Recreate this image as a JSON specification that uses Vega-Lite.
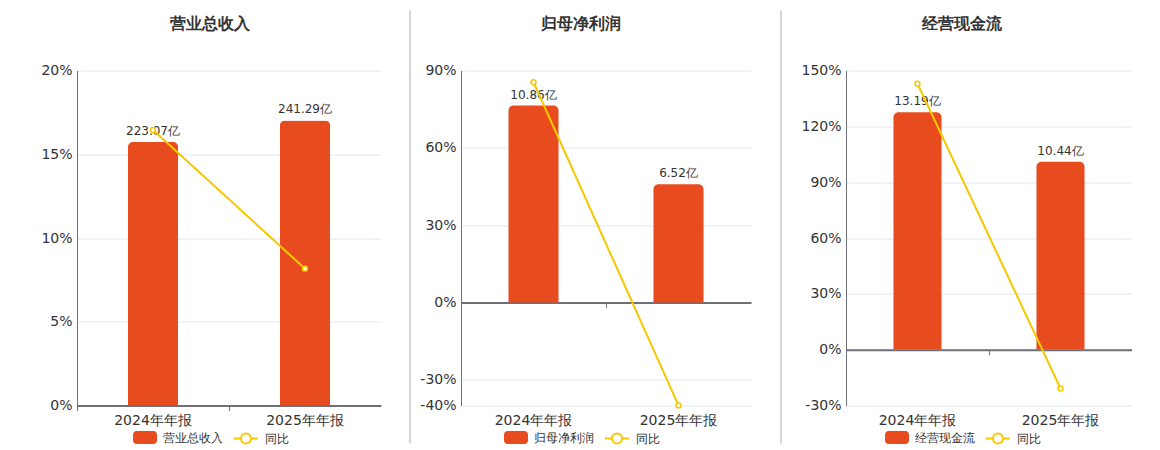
{
  "$schema": "https://vega.github.io/schema/vega-lite/v6.json",
  "padding": {"left": 0, "top": 9.5, "right": 0, "bottom": 0},
  "background": "white",
  "spacing": 0,
  "config": {
    "font": "DejaVu Sans",
    "view": {"stroke": null},
    "axis": {"labelColor": "#333333", "labelFontSize": 14, "labelFont": "DejaVu Sans", "domainColor": "#6E7079", "tickColor": "#6E7079", "gridColor": "#E0E6F1", "title": null},
    "title": {"fontSize": 16, "fontWeight": "bold", "color": "#333333", "anchor": "middle", "frame": "group", "offset": 32},
    "legend": {"labelFontSize": 12, "labelColor": "#333333", "labelOffset": 6, "title": null, "orient": "none", "legendY": 355}
  },
  "resolve": {"scale": {"color": "independent", "stroke": "independent"}},
  "hconcat": [
    {
      "title": {"text": "营业总收入", "dx": -19},
      "width": 304,
      "height": 335,
      "data": {"values": [
        {"period": "2024年年报", "value": 223.07, "label": "223.07亿", "yoy": 16.45},
        {"period": "2025年年报", "value": 241.29, "label": "241.29亿", "yoy": 8.17}
      ]},
      "encoding": {
        "x": {"field": "period", "type": "nominal", "sort": null,
          "scale": {"paddingInner": 0, "paddingOuter": 0},
          "axis": {"labelAngle": 0, "bandPosition": 0, "domainWidth": 2, "tickSize": 5, "labelPadding": 3}}
      },
      "layer": [
        {
          "mark": {"type": "bar", "width": {"band": 0.33}, "cornerRadiusTopLeft": 5, "cornerRadiusTopRight": 5},
          "encoding": {
            "y": {"field": "value", "type": "quantitative", "scale": {"domain": [0, 283.6], "nice": false, "zero": false}, "axis": null},
            "color": {"datum": "营业总收入", "scale": {"range": ["#E84C1E"]},
              "legend": {"legendX": 56, "symbolType": "M-0.7,-0.55H0.7A0.3,0.3 0 0 1 1,-0.25V0.25A0.3,0.3 0 0 1 0.7,0.55H-0.7A0.3,0.3 0 0 1 -1,0.25V-0.25A0.3,0.3 0 0 1 -0.7,-0.55Z", "symbolSize": 576, "symbolStrokeWidth": 0}}
          }
        },
        {
          "mark": {"type": "text", "baseline": "bottom", "dy": -4, "fontSize": 12, "color": "#333333"},
          "encoding": {
            "y": {"field": "value", "type": "quantitative", "scale": {"domain": [0, 283.6], "nice": false, "zero": false}, "axis": null},
            "text": {"field": "label"}
          }
        },
        {
          "mark": {"type": "line", "strokeWidth": 2, "point": {"filled": false, "fill": "white", "size": 24, "strokeWidth": 1.5}},
          "encoding": {
            "y": {"field": "yoy", "type": "quantitative", "scale": {"domain": [0, 20], "nice": false},
              "axis": {"values": [0, 5, 10, 15, 20], "labelExpr": "datum.value + '%'", "ticks": false, "labelPadding": 5, "grid": true, "domainWidth": 1, "minExtent": 77, "maxExtent": 77}},
            "stroke": {"datum": "同比", "scale": {"range": ["#F5C800"]},
              "legend": {"legendX": 156, "symbolType": "M-1,0H-0.42M0.42,0H1M-0.42,0A0.42,0.42 0 1 1 0.42,0A0.42,0.42 0 1 1 -0.42,0", "symbolSize": 576, "symbolStrokeWidth": 2, "symbolFillColor": "white"}}
          }
        }
      ],
      "resolve": {"scale": {"y": "independent"}}
    },
    {
      "width": 29,
      "height": 335,
      "data": {"values": [{"top": 10, "bottom": 443}]},
      "mark": {"type": "rule", "color": "#AAAAAA", "strokeWidth": 1, "clip": false},
      "encoding": {
        "x": {"datum": 1, "type": "quantitative", "scale": {"domain": [0, 1]}, "axis": null},
        "y": {"field": "top", "type": "quantitative", "scale": {"domain": [70, 405], "reverse": true, "nice": false, "zero": false}, "axis": null},
        "y2": {"field": "bottom"}
      }
    },
    {
      "title": {"text": "归母净利润", "dx": -25},
      "width": 290,
      "height": 335,
      "data": {"values": [
        {"period": "2024年年报", "value": 10.86, "label": "10.86亿", "yoy": 85.45},
        {"period": "2025年年报", "value": 6.52, "label": "6.52亿", "yoy": -39.96}
      ]},
      "encoding": {
        "x": {"field": "period", "type": "nominal", "sort": null,
          "scale": {"paddingInner": 0, "paddingOuter": 0},
          "axis": {"labelAngle": 0, "bandPosition": 0, "domainWidth": 2, "tickSize": 5, "offset": -103.1, "labelPadding": 106}}
      },
      "layer": [
        {
          "mark": {"type": "bar", "width": {"band": 0.345}, "cornerRadiusTopLeft": 5, "cornerRadiusTopRight": 5},
          "encoding": {
            "y": {"field": "value", "type": "quantitative", "scale": {"domain": [-5.68, 12.79], "nice": false, "zero": false}, "axis": null},
            "y2": {"datum": 0},
            "color": {"datum": "归母净利润", "scale": {"range": ["#E84C1E"]},
              "legend": {"legendX": 43, "symbolType": "M-0.7,-0.55H0.7A0.3,0.3 0 0 1 1,-0.25V0.25A0.3,0.3 0 0 1 0.7,0.55H-0.7A0.3,0.3 0 0 1 -1,0.25V-0.25A0.3,0.3 0 0 1 -0.7,-0.55Z", "symbolSize": 576, "symbolStrokeWidth": 0}}
          }
        },
        {
          "mark": {"type": "text", "baseline": "bottom", "dy": -4, "fontSize": 12, "color": "#333333"},
          "encoding": {
            "y": {"field": "value", "type": "quantitative", "scale": {"domain": [-5.68, 12.79], "nice": false, "zero": false}, "axis": null},
            "text": {"field": "label"}
          }
        },
        {
          "mark": {"type": "line", "strokeWidth": 2, "point": {"filled": false, "fill": "white", "size": 24, "strokeWidth": 1.5}},
          "encoding": {
            "y": {"field": "yoy", "type": "quantitative", "scale": {"domain": [-40, 90], "nice": false},
              "axis": {"values": [-40, -30, 0, 30, 60, 90], "labelExpr": "datum.value + '%'", "ticks": false, "labelPadding": 5, "grid": true, "domainWidth": 1, "minExtent": 50, "maxExtent": 50}},
            "stroke": {"datum": "同比", "scale": {"range": ["#F5C800"]},
              "legend": {"legendX": 143, "symbolType": "M-1,0H-0.42M0.42,0H1M-0.42,0A0.42,0.42 0 1 1 0.42,0A0.42,0.42 0 1 1 -0.42,0", "symbolSize": 576, "symbolStrokeWidth": 2, "symbolFillColor": "white"}}
          }
        }
      ],
      "resolve": {"scale": {"y": "independent"}}
    },
    {
      "width": 30,
      "height": 335,
      "data": {"values": [{"top": 10, "bottom": 443}]},
      "mark": {"type": "rule", "color": "#AAAAAA", "strokeWidth": 1, "clip": false},
      "encoding": {
        "x": {"datum": 1, "type": "quantitative", "scale": {"domain": [0, 1]}, "axis": null},
        "y": {"field": "top", "type": "quantitative", "scale": {"domain": [70, 405], "reverse": true, "nice": false, "zero": false}, "axis": null},
        "y2": {"field": "bottom"}
      }
    },
    {
      "title": {"text": "经营现金流", "dx": -27},
      "width": 286,
      "height": 335,
      "data": {"values": [
        {"period": "2024年年报", "value": 13.19, "label": "13.19亿", "yoy": 142.9},
        {"period": "2025年年报", "value": 10.44, "label": "10.44亿", "yoy": -20.85}
      ]},
      "encoding": {
        "x": {"field": "period", "type": "nominal", "sort": null,
          "scale": {"paddingInner": 0, "paddingOuter": 0},
          "axis": {"labelAngle": 0, "bandPosition": 0, "domainWidth": 2, "tickSize": 5, "offset": -55.8, "labelPadding": 58.8}}
      },
      "layer": [
        {
          "mark": {"type": "bar", "width": {"band": 0.336}, "cornerRadiusTopLeft": 5, "cornerRadiusTopRight": 5},
          "encoding": {
            "y": {"field": "value", "type": "quantitative", "scale": {"domain": [-3.11, 15.51], "nice": false, "zero": false}, "axis": null},
            "y2": {"datum": 0},
            "color": {"datum": "经营现金流", "scale": {"range": ["#E84C1E"]},
              "legend": {"legendX": 39, "symbolType": "M-0.7,-0.55H0.7A0.3,0.3 0 0 1 1,-0.25V0.25A0.3,0.3 0 0 1 0.7,0.55H-0.7A0.3,0.3 0 0 1 -1,0.25V-0.25A0.3,0.3 0 0 1 -0.7,-0.55Z", "symbolSize": 576, "symbolStrokeWidth": 0}}
          }
        },
        {
          "mark": {"type": "text", "baseline": "bottom", "dy": -4, "fontSize": 12, "color": "#333333"},
          "encoding": {
            "y": {"field": "value", "type": "quantitative", "scale": {"domain": [-3.11, 15.51], "nice": false, "zero": false}, "axis": null},
            "text": {"field": "label"}
          }
        },
        {
          "mark": {"type": "line", "strokeWidth": 2, "point": {"filled": false, "fill": "white", "size": 24, "strokeWidth": 1.5}},
          "encoding": {
            "y": {"field": "yoy", "type": "quantitative", "scale": {"domain": [-30, 150], "nice": false},
              "axis": {"values": [-30, 0, 30, 60, 90, 120, 150], "labelExpr": "datum.value + '%'", "ticks": false, "labelPadding": 5, "grid": true, "domainWidth": 1, "minExtent": 64, "maxExtent": 64}},
            "stroke": {"datum": "同比", "scale": {"range": ["#F5C800"]},
              "legend": {"legendX": 139, "symbolType": "M-1,0H-0.42M0.42,0H1M-0.42,0A0.42,0.42 0 1 1 0.42,0A0.42,0.42 0 1 1 -0.42,0", "symbolSize": 576, "symbolStrokeWidth": 2, "symbolFillColor": "white"}}
          }
        }
      ],
      "resolve": {"scale": {"y": "independent"}}
    }
  ]
}
